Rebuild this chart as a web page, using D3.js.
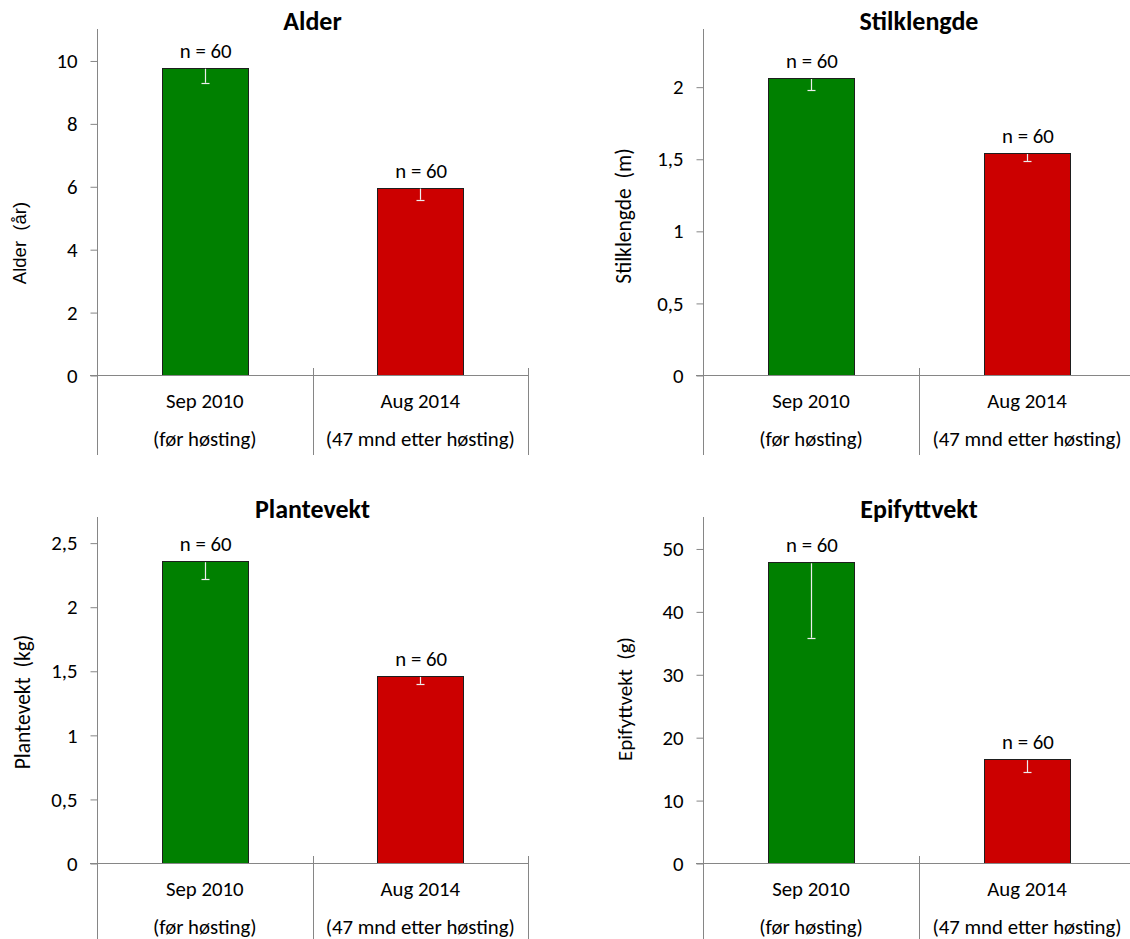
<!DOCTYPE html>
<html>
<head>
<meta charset="utf-8">
<script src="https://cdn.jsdelivr.net/npm/d3@7"></script>
<style>
  html, body { margin: 0; padding: 0; background: #fff; }
  svg { display: block; }
  text { font-family: Calibri, Carlito, Lato, sans-serif; fill: #000; }
</style>
</head>
<body>
<svg id="chart" width="1130" height="939"></svg>
<script>
// Sampling dates and their descriptions
const categories = ["Sep 2010", "Aug 2014"];
const subLabels = ["(før høsting)", "(47 mnd etter høsting)"];
const sampleSize = [60, 60];

// Panel titles and axis titles
const titles = ["Alder", "Stilklengde", "Plantevekt", "Epifyttvekt"];
const yTitles = ["Alder  (år)", "Stilklengde  (m)", "Plantevekt  (kg)", "Epifyttvekt  (g)"];

// Means and standard errors per date
const alderMean = [9.77, 5.96];
const alderSE = [0.48, 0.39];
const stilkMean = [2.06, 1.54];
const stilkSE = [0.085, 0.055];
const planteMean = [2.355, 1.46];
const planteSE = [0.14, 0.062];
const epifyttMean = [47.8, 16.5];
const epifyttSE = [12.0, 2.1];

// Axis ranges and tick values
const yMax = [11, 2.4, 2.7, 55];
const alderTicks = [0, 2, 4, 6, 8, 10];
const stilkTicks = [0, 0.5, 1, 1.5, 2];
const planteTicks = [0, 0.5, 1, 1.5, 2, 2.5];
const epifyttTicks = [0, 10, 20, 30, 40, 50];

const barColors = ["#008000", "#cc0000"];
const axisColor = "#868686";

const panels = [
  { title: titles[0], yTitle: yTitles[0], mean: alderMean, se: alderSE, max: yMax[0], ticks: alderTicks },
  { title: titles[1], yTitle: yTitles[1], mean: stilkMean, se: stilkSE, max: yMax[1], ticks: stilkTicks },
  { title: titles[2], yTitle: yTitles[2], mean: planteMean, se: planteSE, max: yMax[2], ticks: planteTicks },
  { title: titles[3], yTitle: yTitles[3], mean: epifyttMean, se: epifyttSE, max: yMax[3], ticks: epifyttTicks }
];

// Plot frame of each panel (2 x 2 grid) and placement of the value-axis title
const frames = [
  { left: 97,  right: 528,  top: 29,  zero: 375, bottom: 455, titleX: 26,  titleY: 243, titleFont: "'Liberation Sans', Arial, sans-serif", titleSize: 18.5 },
  { left: 703, right: 1135, top: 29,  zero: 375, bottom: 455, titleX: 631, titleY: 216, titleFont: null, titleSize: 21.5 },
  { left: 97,  right: 528,  top: 517, zero: 863, bottom: 945, titleX: 30,  titleY: 702, titleFont: null, titleSize: 21.5 },
  { left: 703, right: 1135, top: 517, zero: 863, bottom: 945, titleX: 632, titleY: 699, titleFont: null, titleSize: 21 }
];

const nbLocale = d3.formatLocale({ decimal: ",", thousands: "\u00a0", grouping: [3], currency: ["", " kr"] });
const tickFmt = nbLocale.format("~g");

const svg = d3.select("#chart");
const FS = 20.8;

panels.forEach((p, i) => {
  const f = frames[i];
  const y = d3.scaleLinear().domain([0, p.max]).range([f.zero, f.top]);
  const x = d3.scaleBand().domain(categories).range([f.left, f.right]);
  const bw = x.bandwidth();
  const g = svg.append("g");

  // y axis ticks and labels
  const yAxis = d3.axisLeft(y).tickValues(p.ticks).tickSize(7).tickPadding(13).tickFormat(tickFmt);
  const ya = g.append("g").attr("transform", `translate(${f.left + 0.5},0.5)`).call(yAxis);
  ya.select(".domain").remove();
  ya.selectAll(".tick line").attr("stroke", axisColor);
  ya.selectAll(".tick text")
    .attr("font-size", FS)
    .attr("fill", "#000");

  // bars
  g.selectAll("rect.bar")
    .data(categories)
    .join("rect")
    .attr("class", "bar")
    .attr("x", c => Math.round(x(c) + bw * 0.3) + 0.5)
    .attr("width", Math.round(bw * 0.4))
    .attr("y", (c, j) => Math.round(y(p.mean[j])) + 0.5)
    .attr("height", (c, j) => Math.round(y(0)) - Math.round(y(p.mean[j])))
    .attr("fill", (c, j) => barColors[j])
    .attr("stroke", "#1e1e1e")
    .attr("stroke-width", 1);

  // axis lines: vertical value axis, horizontal base line and category separators
  g.append("line")
    .attr("x1", f.left + 0.5).attr("x2", f.left + 0.5)
    .attr("y1", f.top).attr("y2", f.bottom)
    .attr("stroke", axisColor);
  g.append("line")
    .attr("x1", f.left - 7).attr("x2", f.right)
    .attr("y1", Math.round(y(0)) + 0.5).attr("y2", Math.round(y(0)) + 0.5)
    .attr("stroke", axisColor);
  g.selectAll("line.sep")
    .data(categories)
    .join("line")
    .attr("class", "sep")
    .attr("x1", c => Math.round(x(c) + bw) + 0.5)
    .attr("x2", c => Math.round(x(c) + bw) + 0.5)
    .attr("y1", y(0) - 7).attr("y2", f.bottom)
    .attr("stroke", axisColor);

  // minus-side error bars with caps
  categories.forEach((c, j) => {
    const cx = Math.round(x(c) + bw / 2) + 0.5;
    const yTop = y(p.mean[j]) + 1;
    const yLow = y(p.mean[j] - p.se[j]);
    g.append("line")
      .attr("x1", cx).attr("x2", cx)
      .attr("y1", yTop).attr("y2", yLow)
      .attr("stroke", "#eeeeee").attr("stroke-width", 1.2);
    g.append("line")
      .attr("x1", cx - 4).attr("x2", cx + 4)
      .attr("y1", Math.round(yLow) + 0.5).attr("y2", Math.round(yLow) + 0.5)
      .attr("stroke", "#eeeeee").attr("stroke-width", 1.2);
  });

  // sample size labels
  g.selectAll("text.n")
    .data(categories)
    .join("text")
    .attr("class", "n")
    .attr("x", c => x(c) + bw / 2 + 1)
    .attr("y", (c, j) => y(p.mean[j]) - 10)
    .attr("text-anchor", "middle")
    .attr("font-size", FS)
    .text((c, j) => `n = ${sampleSize[j]}`);

  // category labels (two lines)
  g.selectAll("text.cat")
    .data(categories)
    .join("text")
    .attr("class", "cat")
    .attr("x", c => x(c) + bw / 2)
    .attr("y", y(0) + 33)
    .attr("text-anchor", "middle")
    .attr("font-size", FS)
    .text(c => c);
  g.selectAll("text.sub")
    .data(subLabels)
    .join("text")
    .attr("class", "sub")
    .attr("x", (s, j) => x(categories[j]) + bw / 2)
    .attr("y", y(0) + 71)
    .attr("text-anchor", "middle")
    .attr("font-size", FS)
    .text(s => s);

  // panel title
  g.append("text")
    .attr("x", (f.left + f.right) / 2)
    .attr("y", f.top + 1)
    .attr("text-anchor", "middle")
    .attr("font-size", 26)
    .attr("font-weight", "bold")
    .text(p.title);

  // value axis title
  const yt = g.append("text")
    .attr("transform", `translate(${f.titleX},${f.titleY}) rotate(-90)`)
    .attr("text-anchor", "middle")
    .attr("font-size", f.titleSize)
    .style("white-space", "pre")
    .text(p.yTitle);
  if (f.titleFont) yt.style("font-family", f.titleFont);
});
</script>
</body>
</html>
